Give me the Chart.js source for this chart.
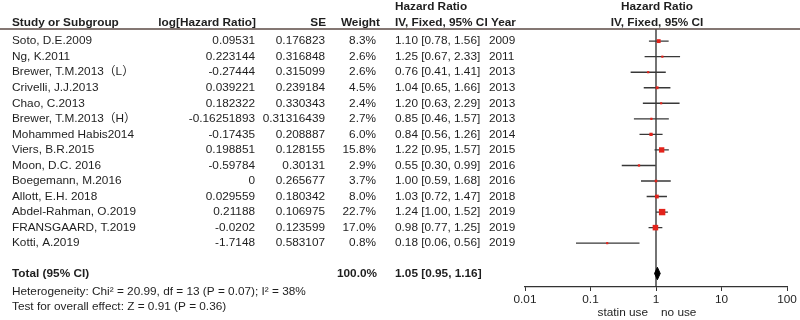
<!DOCTYPE html>
<html>
<head>
<meta charset="utf-8">
<script src="https://cdn.jsdelivr.net/npm/chart.js@4/dist/chart.umd.min.js"></script>
<style>
  body { margin: 0; background: #fff; }
  canvas { display: block; }
</style>
</head>
<body>
<canvas id="forestChart" width="800" height="320"></canvas>
<script>
const studies = ['Soto, D.E.2009', 'Ng, K.2011', 'Brewer, T.M.2013（L）', 'Crivelli, J.J.2013', 'Chao, C.2013',
    'Brewer, T.M.2013（H）', 'Mohammed Habis2014', 'Viers, B.R.2015', 'Moon, D.C. 2016', 'Boegemann, M.2016',
    'Allott, E.H. 2018', 'Abdel-Rahman, O.2019', 'FRANSGAARD, T.2019', 'Kotti, A.2019'];
const logHR = ['0.09531', '0.223144', '-0.27444', '0.039221', '0.182322', '-0.16251893', '-0.17435',
    '0.198851', '-0.59784', '0', '0.029559', '0.21188', '-0.0202', '-1.7148'];
const seValues = ['0.176823', '0.316848', '0.315099', '0.239184', '0.330343', '0.31316439', '0.208887',
    '0.128155', '0.30131', '0.265677', '0.180342', '0.106975', '0.123599', '0.583107'];
const weights = [8.3, 2.6, 2.6, 4.5, 2.4, 2.7, 6.0, 15.8, 2.9, 3.7, 8.0, 22.7, 17.0, 0.8];
const hr = [1.10, 1.25, 0.76, 1.04, 1.20, 0.85, 0.84, 1.22, 0.55, 1.00, 1.03, 1.24, 0.98, 0.18];
const ciLow = [0.78, 0.67, 0.41, 0.65, 0.63, 0.46, 0.56, 0.95, 0.30, 0.59, 0.72, 1.00, 0.77, 0.06];
const ciHigh = [1.56, 2.33, 1.41, 1.66, 2.29, 1.57, 1.26, 1.57, 0.99, 1.68, 1.47, 1.52, 1.25, 0.56];
const years = [2009, 2011, 2013, 2013, 2013, 2013, 2014, 2015, 2016, 2016, 2018, 2019, 2019, 2019];

const totalWeight = '100.0%';
const totalHR = 1.05;
const totalLow = 0.95;
const totalHigh = 1.16;
const xTicks = [0.01, 0.1, 1, 10, 100];
const heterogeneityText = 'Heterogeneity: Chi² = 20.99, df = 13 (P = 0.07); I² = 38%';
const overallText = 'Test for overall effect: Z = 0.91 (P = 0.36)';
const favoursLeft = 'statin use';
const favoursRight = 'no use';

// row positions on the y scale (0 = first study)
const totalRow = 14.95;
const yTop = -0.78;
const yBottom = 15.82;

const FONT = "'Liberation Sans', 'Noto Sans CJK SC', Arial, sans-serif";
const FONT_SIZE = 11.8;
const TEXT_COLOR = '#1e1e1e';
const fmt = v => v.toFixed(2);

// whiskers as one broken line
const whiskerData = [];
studies.forEach((s, i) => {
    whiskerData.push({ x: ciLow[i], y: i }, { x: ciHigh[i], y: i }, { x: ciHigh[i], y: null });
});

const pointData = hr.map((v, i) => ({ x: v, y: i }));
const pointSizes = weights.map(w => Math.max(1.5, 0.95 * Math.sqrt(w)));

const diamondData = [
    { x: totalLow, y: totalRow },
    { x: totalHR, y: totalRow - 0.4 },
    { x: totalHigh, y: totalRow },
    { x: totalHR, y: totalRow + 0.4 },
    { x: totalLow, y: totalRow }
];

const tablePlugin = {
    id: 'forestTable',
    afterDraw(chart) {
        const ctx = chart.ctx;
        const y = chart.scales.y;
        const x = chart.scales.x;
        const area = chart.chartArea;
        ctx.save();
        ctx.fillStyle = TEXT_COLOR;
        ctx.textBaseline = 'middle';

        // header
        ctx.font = `bold ${FONT_SIZE}px ${FONT}`;
        ctx.textAlign = 'left';
        ctx.fillText('Study or Subgroup', 12, 23);
        ctx.fillText('Hazard Ratio', 395, 7);
        ctx.fillText('IV, Fixed, 95% CI Year', 395, 23);
        ctx.textAlign = 'right';
        ctx.fillText('log[Hazard Ratio]', 256, 23);
        ctx.fillText('SE', 326, 23);
        ctx.fillText('Weight', 380, 23);
        ctx.textAlign = 'center';
        const mid = x.getPixelForValue(1);
        ctx.fillText('Hazard Ratio', mid + 1, 7);
        ctx.fillText('IV, Fixed, 95% CI', mid + 1, 23);

        // header rule
        ctx.strokeStyle = '#5b4a44';
        ctx.lineWidth = 1.3;
        ctx.beginPath();
        ctx.moveTo(0, area.top);
        ctx.lineTo(800, area.top);
        ctx.stroke();

        // study rows
        ctx.font = `${FONT_SIZE}px ${FONT}`;
        studies.forEach((s, i) => {
            const py = y.getPixelForValue(i);
            ctx.textAlign = 'left';
            ctx.fillText(s, 12, py);
            ctx.fillText(`${fmt(hr[i])} [${fmt(ciLow[i])}, ${fmt(ciHigh[i])}]`, 395, py);
            ctx.fillText(String(years[i]), 489, py);
            ctx.textAlign = 'right';
            ctx.fillText(logHR[i], 255, py);
            ctx.fillText(seValues[i], 325, py);
            ctx.fillText(weights[i].toFixed(1) + '%', 376, py);
        });

        // total row
        const ty = y.getPixelForValue(totalRow);
        ctx.font = `bold ${FONT_SIZE}px ${FONT}`;
        ctx.textAlign = 'left';
        ctx.fillText('Total (95% CI)', 12, ty);
        ctx.fillText(`${fmt(totalHR)} [${fmt(totalLow)}, ${fmt(totalHigh)}]`, 395, ty);
        ctx.textAlign = 'right';
        ctx.fillText(totalWeight, 377, ty);

        ctx.font = `${FONT_SIZE}px ${FONT}`;
        ctx.textAlign = 'left';
        ctx.fillText(heterogeneityText, 12, ty + 18);
        ctx.fillText(overallText, 12, ty + 33);

        // favours labels
        ctx.textAlign = 'right';
        ctx.fillText(favoursLeft, mid - 8, 313);
        ctx.textAlign = 'left';
        ctx.fillText(favoursRight, mid + 5, 313);
        ctx.restore();
    }
};

new Chart(document.getElementById('forestChart').getContext('2d'), {
    type: 'scatter',
    data: {
        datasets: [
            {
                data: pointData,
                order: 0,
                pointStyle: 'rect',
                pointRadius: pointSizes,
                pointBackgroundColor: '#e3231b',
                pointBorderWidth: 0
            },
            {
                type: 'line',
                data: diamondData,
                order: 1,
                borderColor: '#000000',
                borderWidth: 1,
                backgroundColor: '#000000',
                fill: 'shape',
                pointRadius: 0
            },
            {
                type: 'line',
                data: whiskerData,
                order: 2,
                borderColor: '#383838',
                borderWidth: 1.4,
                pointRadius: 0,
                spanGaps: false
            },
            {
                type: 'line',
                data: [{ x: 1, y: yTop }, { x: 1, y: yBottom }],
                order: 3,
                borderColor: '#2a2a2a',
                borderWidth: 1.3,
                pointRadius: 0
            }
        ]
    },
    options: {
        responsive: false,
        animation: false,
        events: [],
        layout: { padding: { left: 525, right: 13, top: 29, bottom: 0 } },
        plugins: {
            legend: { display: false },
            tooltip: { enabled: false }
        },
        scales: {
            x: {
                type: 'logarithmic',
                min: 0.01,
                max: 100,
                afterBuildTicks: scale => {
                    scale.ticks = xTicks.map(v => ({ value: v }));
                },
                afterFit: scale => {
                    scale.height = 33;
                },
                ticks: {
                    autoSkip: false,
                    maxRotation: 0,
                    padding: 2,
                    color: TEXT_COLOR,
                    font: { family: FONT, size: FONT_SIZE },
                    callback: value => String(value)
                },
                grid: {
                    display: true,
                    drawOnChartArea: false,
                    drawTicks: true,
                    tickLength: 4,
                    color: '#333333'
                },
                border: { display: true, color: '#333333', width: 1.2 }
            },
            y: {
                type: 'linear',
                display: false,
                reverse: true,
                min: yTop,
                max: yBottom
            }
        }
    },
    plugins: [tablePlugin]
});
</script>
</body>
</html>
